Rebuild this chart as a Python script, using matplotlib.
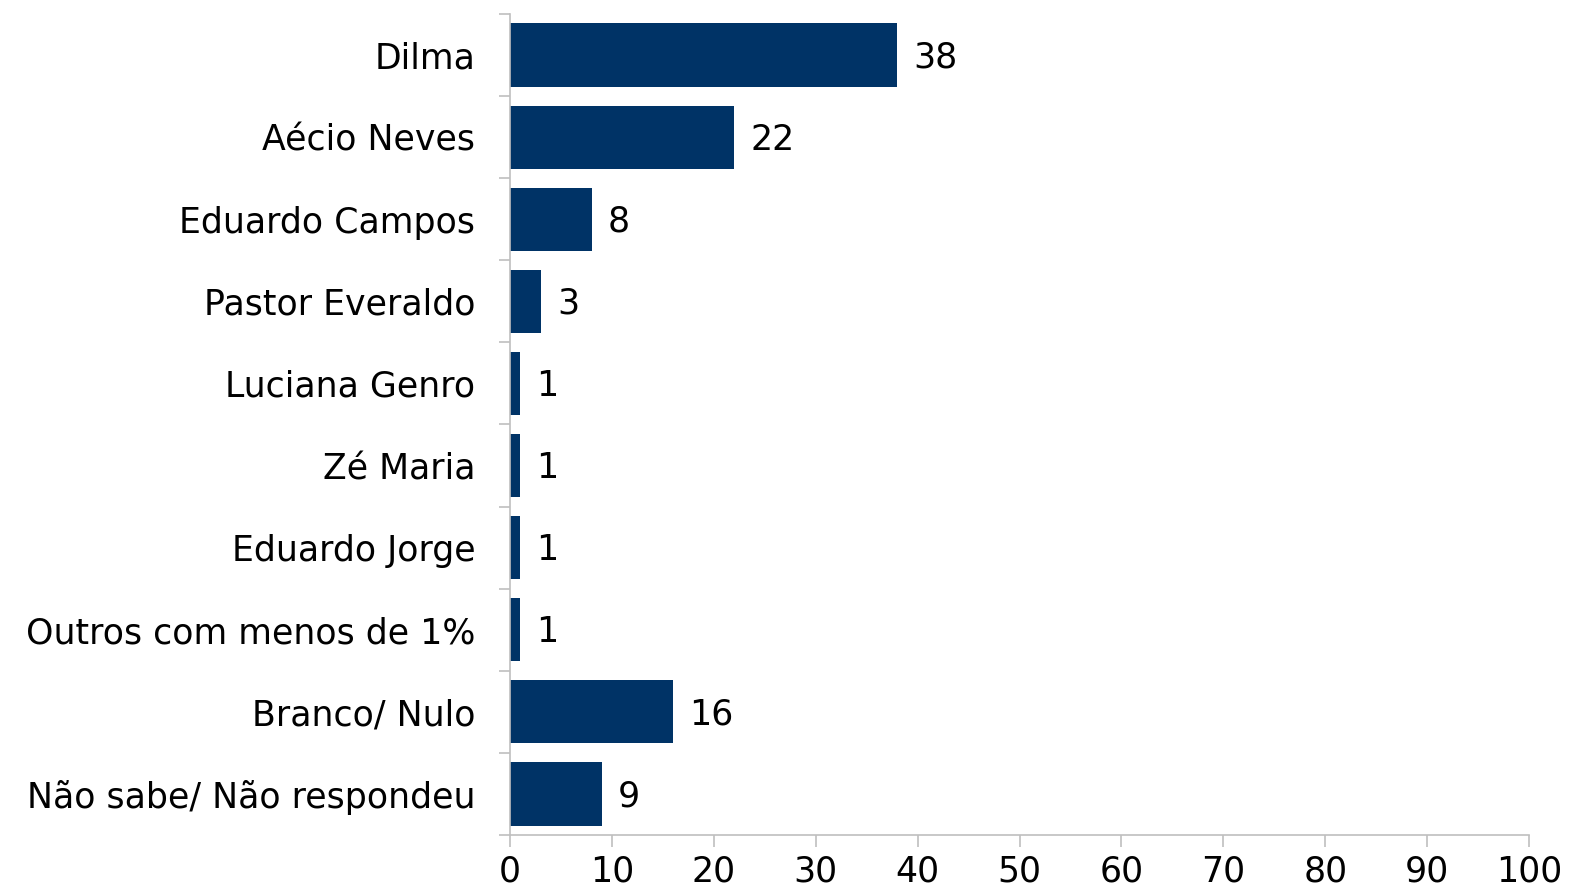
import matplotlib
matplotlib.use("Agg")
import matplotlib.pyplot as plt
import numpy as np

categories = ["Dilma", "Aécio Neves", "Eduardo Campos", "Pastor Everaldo",
              "Luciana Genro", "Zé Maria", "Eduardo Jorge",
              "Outros com menos de 1%", "Branco/ Nulo", "Não sabe/ Não respondeu"]
values = [38, 22, 8, 3, 1, 1, 1, 1, 16, 9]
x_ticks = [0, 10, 20, 30, 40, 50, 60, 70, 80, 90, 100]

plt.rcParams['font.family'] = ['DejaVu Sans']
FS = 25

fig = plt.figure(figsize=(15.73, 8.96), dpi=100)
ax = fig.add_axes([510/1573, 1-835/896, 1019/1573, 821/896])

n = len(categories)
y = np.arange(n)
bar_color = '#003366'
ax.barh(y, values, height=0.77, color=bar_color, zorder=2)
for yi, v in zip(y, values):
    ax.text(v + 1.6, yi + 0.03, str(v), va='center', ha='left', fontsize=FS, color='black')

ax.set_xlim(0, 100)
ax.set_ylim(n - 0.5, -0.5)
ax.set_xticks(x_ticks)
ax.set_xticklabels([str(t) for t in x_ticks], fontsize=FS)
ax.set_yticks(y)
ax.set_yticklabels(categories, fontsize=FS)
ax.set_yticks(np.arange(-0.5, n, 1), minor=True)

grey = '#BFBFBF'
for s in ['top', 'right']:
    ax.spines[s].set_visible(False)
for s in ['left', 'bottom']:
    ax.spines[s].set_color(grey)
    ax.spines[s].set_linewidth(1.2)

ax.tick_params(axis='y', which='major', length=0, pad=25)
ax.tick_params(axis='y', which='minor', length=8, color=grey, width=1.2)
ax.tick_params(axis='x', which='major', length=8.5, color=grey, width=1.2, pad=5.5)

fig.savefig('out.png', dpi=100)
